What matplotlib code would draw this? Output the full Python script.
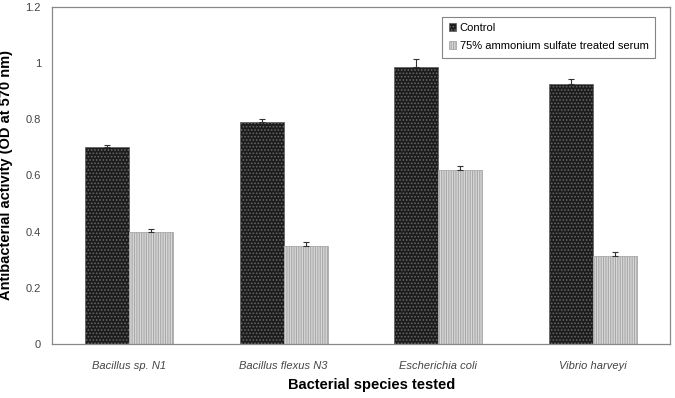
import numpy as np
import matplotlib
matplotlib.use('Agg')
import matplotlib.pyplot as plt

plt.rcParams['font.family'] = ['Liberation Sans', 'DejaVu Sans']
plt.rcParams['hatch.linewidth'] = 0.8

species = ['Bacillus sp. N1', 'Bacillus flexus N3', 'Escherichia coli', 'Vibrio harveyi']
control = [0.70, 0.79, 0.985, 0.925]
control_err = [0.008, 0.012, 0.03, 0.02]
treated = [0.40, 0.35, 0.62, 0.315]
treated_err = [0.01, 0.012, 0.015, 0.013]
series_names = ['Control', '75% ammonium sulfate treated serum']

fig = plt.figure(figsize=(6.75, 3.98), dpi=100)
ax = fig.add_axes([0.077, 0.1357, 0.9156, 0.8467])

x = np.arange(len(species))
w = 0.2857

b1 = ax.bar(x - w / 2, control, w, color='#1c1c1c', edgecolor='#666666',
            hatch='.....', linewidth=0.6, label=series_names[0])
b2 = ax.bar(x + w / 2, treated, w, color='#d8d8d8', edgecolor='#a8a8a8',
            hatch='|||||||', linewidth=0.6, label=series_names[1])
ax.errorbar(x - w / 2, control, yerr=[np.zeros(4), control_err], fmt='none',
            ecolor='#333333', elinewidth=0.8, capsize=2.5, capthick=0.8)
ax.errorbar(x + w / 2, treated, yerr=[np.zeros(4), treated_err], fmt='none',
            ecolor='#333333', elinewidth=0.8, capsize=2.5, capthick=0.8)

ax.set_xlim(-0.5, 3.5)
ax.set_ylim(0, 1.2)
ax.set_yticks([0, 0.2, 0.4, 0.6, 0.8, 1.0, 1.2])
ax.set_yticklabels(['0', '0.2', '0.4', '0.6', '0.8', '1', '1.2'])
ax.set_xticks(x)
ax.set_xticklabels(species, style='italic')
ax.tick_params(axis='both', length=0, labelsize=8, colors='#444444', pad=12)
ax.tick_params(axis='y', pad=8)
for s in ax.spines.values():
    s.set_color('#888888')
    s.set_linewidth(0.9)

leg = ax.legend(loc='upper right', bbox_to_anchor=(0.985, 0.988), fontsize=8,
                frameon=True, fancybox=False, edgecolor='#666666',
                handlelength=0.7, handleheight=0.7, handletextpad=0.3,
                borderpad=0.6, labelspacing=0.7)
leg.get_frame().set_linewidth(0.8)

fig.text(0.009, 0.56, 'Antibacterial activity (OD at 570 nm)', rotation=90,
         ha='center', va='center', fontsize=10.5, fontweight='bold')
fig.text(0.55, 0.032, 'Bacterial species tested', ha='center', va='center',
         fontsize=10.5, fontweight='bold')

fig.savefig('out.png', dpi=100)
